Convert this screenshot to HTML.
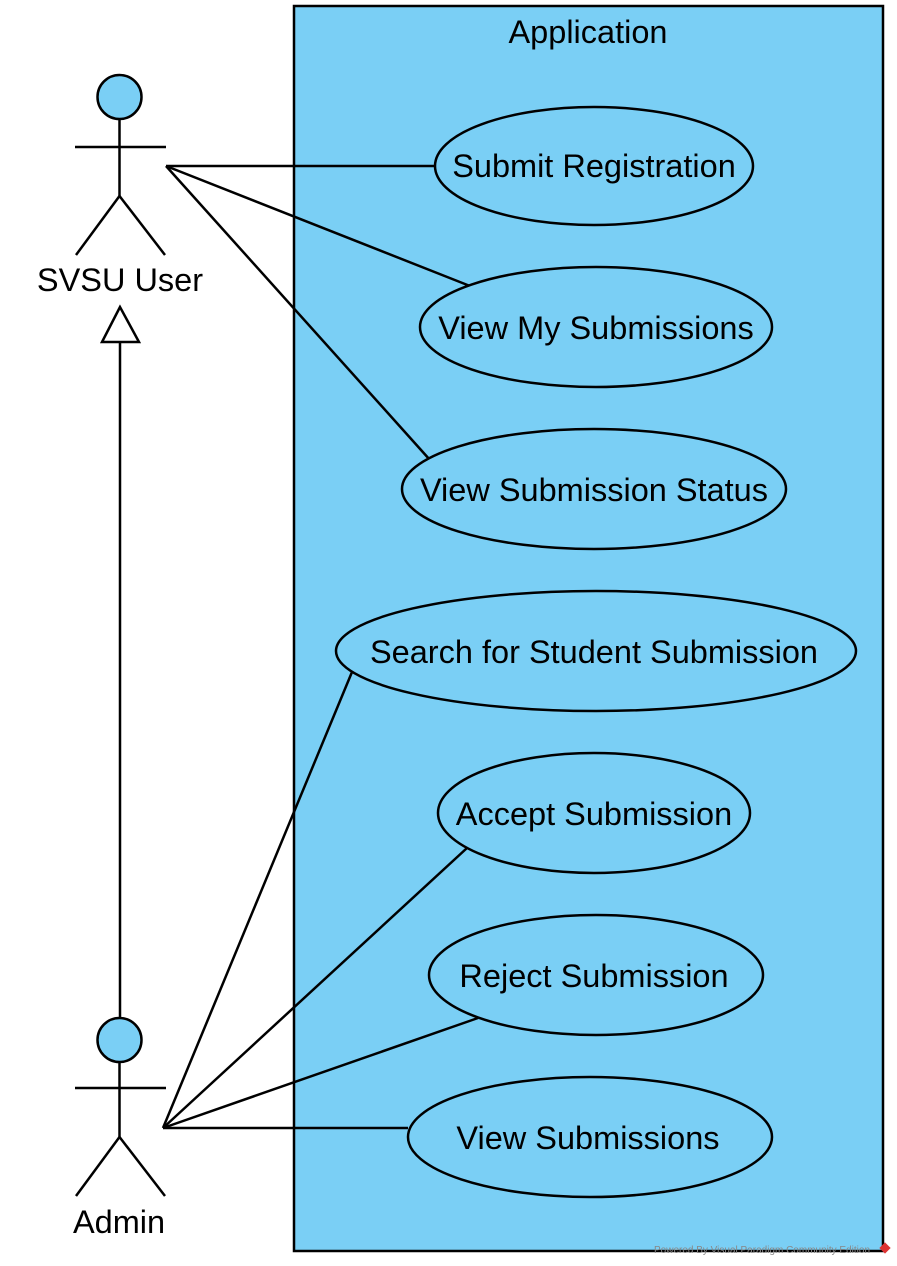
<!DOCTYPE html>
<html><head><meta charset="utf-8"><style>html,body{margin:0;padding:0;background:#fff}svg{display:block}</style></head>
<body>
<svg width="897" height="1266" viewBox="0 0 897 1266" xmlns="http://www.w3.org/2000/svg" font-family="Liberation Sans, Arial, sans-serif">
<rect x="294" y="6" width="589" height="1245" fill="#7ACFF5" stroke="#000" stroke-width="2.5"/>
<text x="588" y="43" font-size="32.5" text-anchor="middle">Application</text>
<g stroke="#000" stroke-width="2.5" fill="none">
<line x1="166" y1="166" x2="435" y2="166"/>
<line x1="166" y1="166" x2="470" y2="286"/>
<line x1="166" y1="166" x2="430" y2="460"/>
<line x1="163" y1="1128" x2="352" y2="672"/>
<line x1="163" y1="1128" x2="467" y2="848"/>
<line x1="163" y1="1128" x2="478" y2="1018"/>
<line x1="163" y1="1128" x2="408" y2="1128"/>
<line x1="120" y1="1017" x2="120" y2="342"/>
<polygon points="120,307 102,342 139,342" fill="#fff"/>
</g>
<g stroke="#000" stroke-width="2.5" fill="#7ACFF5">
<ellipse cx="594" cy="166" rx="159" ry="59"/>
<ellipse cx="596" cy="327" rx="176" ry="60"/>
<ellipse cx="594" cy="489" rx="192" ry="60"/>
<ellipse cx="596" cy="651" rx="260" ry="60"/>
<ellipse cx="594" cy="813" rx="156" ry="60"/>
<ellipse cx="596" cy="975" rx="167" ry="60"/>
<ellipse cx="590" cy="1137" rx="182" ry="60"/>
</g>
<g font-size="32.5" text-anchor="middle">
<text x="594" y="177">Submit Registration</text>
<text x="596" y="339">View My Submissions</text>
<text x="594" y="501">View Submission Status</text>
<text x="594" y="663">Search for Student Submission</text>
<text x="594" y="825">Accept Submission</text>
<text x="594" y="987">Reject Submission</text>
<text x="588" y="1149">View Submissions</text>
</g>
<g stroke="#000" stroke-width="2.5">
<circle cx="119.5" cy="97" r="22" fill="#7ACFF5"/>
<line x1="119.5" y1="119" x2="119.5" y2="196"/>
<line x1="75" y1="147" x2="166" y2="147"/>
<line x1="119.5" y1="196" x2="76" y2="255"/>
<line x1="119.5" y1="196" x2="165" y2="255"/>
<circle cx="119.5" cy="1040" r="22" fill="#7ACFF5"/>
<line x1="119.5" y1="1062" x2="119.5" y2="1137"/>
<line x1="75" y1="1088" x2="166" y2="1088"/>
<line x1="119.5" y1="1137" x2="76" y2="1196"/>
<line x1="119.5" y1="1137" x2="165" y2="1196"/>
</g>
<text x="120" y="291" font-size="32.5" text-anchor="middle">SVSU User</text>
<text x="119" y="1233" font-size="32.5" text-anchor="middle">Admin</text>
<text x="762" y="1253" font-size="10" fill="#888" text-anchor="middle">Powered By Visual Paradigm Community Edition</text>
<rect x="881" y="1244" width="8" height="8" fill="#d33" transform="rotate(45 885 1248)"/>
</svg>
</body></html>
